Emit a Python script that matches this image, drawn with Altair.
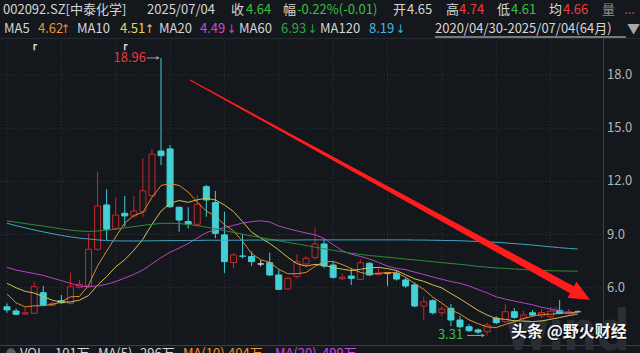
import altair as alt
import pandas as pd

# ---------------- data (monthly candles 2020/04 .. 2025/07, index 0..63) ----------------
opens = [4.93, 4.69, 4.52, 4.56, 5.72, 5.01, 5.27, 5.12, 6.03, 6.10,
         8.17, 10.67, 9.35, 10.20, 10.05, 10.29, 11.19, 13.71, 13.83, 10.54,
         9.73, 9.58, 11.70, 10.80, 8.98, 7.42, 7.79, 7.76, 7.34, 7.41,
         6.72, 5.93, 6.63, 7.34, 7.70, 8.47, 7.28, 6.51, 6.66, 6.47,
         7.38, 6.74, 6.83, 6.82, 6.44, 6.16, 4.97, 5.27, 4.59, 4.84,
         4.18, 3.80, 3.62, 3.52, 4.28, 4.09, 4.65, 4.28, 4.59, 4.41,
         4.37, 4.71, 4.55, 4.65]
highs = [5.12, 4.84, 4.88, 6.34, 6.10, 5.20, 5.60, 6.85, 6.44, 9.07,
         12.55, 11.55, 11.06, 11.18, 11.18, 13.30, 13.81, 18.96, 14.05, 10.57,
         10.54, 11.23, 11.80, 11.46, 10.29, 7.94, 9.02, 8.04, 7.55, 7.98,
         7.00, 6.60, 7.89, 7.80, 9.41, 8.73, 7.45, 6.80, 7.10, 7.60,
         7.45, 7.10, 6.85, 7.00, 6.55, 6.30, 5.50, 5.35, 4.95, 5.08,
         4.40, 3.95, 3.70, 4.03, 4.40, 5.08, 4.85, 4.70, 4.75, 4.80,
         4.90, 5.31, 4.80, 4.74]
lows = [4.59, 4.46, 4.48, 4.52, 4.97, 4.95, 5.08, 5.05, 5.97, 6.00,
        8.10, 8.69, 9.26, 9.45, 9.94, 10.00, 11.10, 12.92, 10.50, 9.16,
        9.35, 9.45, 10.00, 8.79, 6.83, 7.10, 7.66, 7.23, 7.20, 6.66,
        5.87, 5.87, 6.53, 7.20, 7.57, 7.10, 6.50, 6.44, 6.16, 6.44,
        6.66, 6.70, 6.10, 6.40, 6.00, 4.90, 4.18, 4.50, 4.40, 3.84,
        3.72, 3.50, 3.40, 3.31, 3.95, 4.00, 4.25, 4.10, 4.40, 4.30,
        4.25, 4.50, 4.45, 4.61]
closes = [4.75, 4.50, 4.59, 6.06, 5.03, 5.12, 5.16, 6.06, 6.19, 8.17,
          10.61, 9.30, 10.10, 10.05, 10.33, 11.47, 13.54, 13.45, 10.57, 9.82,
          9.60, 10.71, 10.95, 9.07, 7.47, 7.85, 7.78, 7.47, 7.34, 6.72,
          5.91, 6.53, 7.47, 7.66, 8.47, 7.23, 6.59, 6.59, 6.53, 7.41,
          6.72, 6.82, 6.80, 6.49, 6.10, 4.97, 5.21, 4.59, 4.80, 4.18,
          3.80, 3.58, 3.50, 3.90, 4.03, 4.65, 4.33, 4.46, 4.46, 4.60,
          4.68, 4.55, 4.65, 4.64]

ma5 = [5.65, 5.15, 4.92, 4.98, 4.99, 5.06, 5.19, 5.49, 5.51, 6.14,
       7.24, 8.07, 8.87, 9.65, 10.08, 10.25, 11.10, 11.77, 11.87, 11.77,
       11.40, 10.83, 10.33, 10.03, 9.56, 9.21, 8.62, 7.93, 7.58, 7.43,
       7.04, 6.79, 6.79, 6.86, 7.21, 7.47, 7.48, 7.31, 7.08, 6.87,
       6.77, 6.81, 6.86, 6.85, 6.59, 6.24, 5.91, 5.47, 5.13, 4.75,
       4.52, 4.19, 3.97, 3.79, 3.76, 3.93, 4.08, 4.27, 4.39, 4.50,
       4.51, 4.55, 4.59, 4.62]
ma10 = [6.25, 6.00, 5.80, 5.70, 5.50, 5.30, 5.18, 5.20, 5.30, 5.56,
        6.15, 6.63, 7.18, 7.58, 8.11, 8.74, 9.58, 10.32, 10.76, 10.92,
        10.82, 10.96, 11.05, 10.95, 10.67, 10.30, 9.73, 9.13, 8.81, 8.50,
        8.13, 7.71, 7.36, 7.22, 7.32, 7.26, 7.14, 7.05, 6.97, 7.04,
        7.12, 7.15, 7.08, 6.97, 6.73, 6.50, 6.36, 6.16, 5.99, 5.67,
        5.38, 5.05, 4.72, 4.46, 4.26, 4.22, 4.14, 4.12, 4.09, 4.13,
        4.22, 4.32, 4.43, 4.51]
ma20 = [7.15, 7.00, 6.90, 6.80, 6.70, 6.55, 6.40, 6.25, 6.10, 6.05,
        6.10, 6.20, 6.35, 6.55, 6.75, 7.00, 7.35, 7.70, 8.00, 8.24,
        8.49, 8.80, 9.11, 9.27, 9.39, 9.52, 9.65, 9.73, 9.78, 9.71,
        9.48, 9.34, 9.21, 9.09, 8.99, 8.78, 8.43, 8.09, 7.89, 7.77,
        7.62, 7.43, 7.22, 7.09, 7.02, 6.88, 6.75, 6.61, 6.48, 6.35,
        6.25, 6.10, 5.90, 5.71, 5.49, 5.36, 5.25, 5.14, 5.04, 4.90,
        4.80, 4.68, 4.58, 4.49]
ma60 = [9.77, 9.70, 9.62, 9.55, 9.48, 9.40, 9.32, 9.25, 9.20, 9.18,
        9.20, 9.25, 9.30, 9.38, 9.45, 9.52, 9.58, 9.63, 9.64, 9.62,
        9.57, 9.50, 9.42, 9.32, 9.22, 9.12, 9.02, 8.92, 8.83, 8.74,
        8.65, 8.56, 8.47, 8.38, 8.29, 8.20, 8.11, 8.03, 7.95, 7.88,
        7.82, 7.77, 7.72, 7.67, 7.62, 7.57, 7.52, 7.47, 7.42, 7.37,
        7.32, 7.27, 7.20, 7.16, 7.12, 7.09, 7.06, 7.03, 7.00, 6.98,
        6.96, 6.95, 6.94, 6.93]
ma120 = [9.64, 9.50, 9.38, 9.26, 9.15, 9.05, 8.95, 8.87, 8.80, 8.75,
         8.70, 8.66, 8.64, 8.64, 8.64, 8.64, 8.65, 8.65, 8.66, 8.66,
         8.67, 8.67, 8.68, 8.68, 8.68, 8.68, 8.68, 8.69, 8.69, 8.69,
         8.69, 8.69, 8.69, 8.70, 8.70, 8.70, 8.70, 8.70, 8.70, 8.70,
         8.70, 8.70, 8.70, 8.70, 8.70, 8.69, 8.69, 8.68, 8.67, 8.66,
         8.65, 8.63, 8.61, 8.59, 8.56, 8.53, 8.49, 8.45, 8.41, 8.36,
         8.31, 8.26, 8.22, 8.19]

price_ticks = [6, 9, 12, 15, 18]
grid_months = [0, 6, 12, 18, 24, 30, 36, 42, 48, 54, 60]
peak = {"idx": 17, "price": 18.96, "label": "18.96"}
trough = {"idx": 53, "price": 3.31, "label": "3.31"}
event_months = [3, 13]
# trend arrow in (month index, price) space
arrow_idx = [20.2, 62.4]
arrow_price = [17.72, 5.87]
arrow_head = {"idx": 63.36, "price": 5.60}

# ---------------- style ----------------
BG = "#14171c"
RED = "#c8282c"
CYAN = "#40d0d6"
FLAT = "#d8d8d8"
GRID = "#30353d"
TXT = "#d6d6d6"
FONT = "Noto Sans CJK SC"
MA_NAMES = ["MA5", "MA10", "MA20", "MA60", "MA120"]
MA_COLORS = ["#e48a2e", "#d2c250", "#b844c4", "#2c8c3c", "#3ea6c0"]
ORANGE_T = "#f0922c"
YELLOW_T = "#e8d64c"
MAGENTA_T = "#d048d8"
GREEN_MA_T = "#2aa844"
CYAN_T = "#44b8e0"
GREEN_T = "#35c43c"
RED_T = "#f03c3c"

xs = alt.Scale(domain=[-0.773, 69.87], nice=False, zero=False, padding=0)
ys = alt.Scale(domain=[2.32, 22.23], nice=False, zero=False, padding=0)

n = len(closes)
candles = pd.DataFrame({"idx": list(range(n)), "o": opens, "h": highs, "l": lows, "c": closes})
candles["kind"] = ["up" if c > o else ("down" if c < o else "flat") for o, c in zip(opens, closes)]
kind_dom = ["up", "down", "flat"]

X = alt.X("idx:Q", scale=xs, axis=None)

# grid
hgrid = alt.Chart(pd.DataFrame({"p": price_ticks})).mark_rule(
    color=GRID, strokeDash=[1, 2], strokeWidth=1).encode(
    y=alt.Y("p:Q", scale=ys, axis=None), x=alt.value(0), x2=alt.value(603))
vgrid = alt.Chart(pd.DataFrame({"idx": grid_months})).mark_rule(
    color=GRID, strokeDash=[1, 2], strokeWidth=1).encode(
    x=X, y=alt.value(40), y2=alt.value(344))
axis_line = alt.Chart(pd.DataFrame({"a": [0]})).mark_rule(color="#3b4049").encode(
    x=alt.value(603.5), y=alt.value(39), y2=alt.value(345))
sep_line = alt.Chart(pd.DataFrame({"a": [0]})).mark_rule(color="#3b4049").encode(
    x=alt.value(0), x2=alt.value(640), y=alt.value(345.5))
head_line = alt.Chart(pd.DataFrame({"a": [0]})).mark_rule(color="#252930").encode(
    x=alt.value(0), x2=alt.value(640), y=alt.value(38.5))
ylabels = alt.Chart(pd.DataFrame({"p": price_ticks})).mark_text(
    align="left", baseline="middle", fontSize=13, font=FONT, color="#b4b4b4").encode(
    y=alt.Y("p:Q", scale=ys, axis=None), x=alt.value(607), text=alt.Text("p:Q", format=".1f"))

# candles
wick = alt.Chart(candles).mark_rule(strokeWidth=1).encode(
    x=X, y=alt.Y("l:Q", scale=ys, axis=None), y2="h:Q",
    stroke=alt.Stroke("kind:N", scale=alt.Scale(domain=kind_dom, range=[RED, CYAN, FLAT]), legend=None))
body = alt.Chart(candles).mark_bar(size=6, strokeWidth=1).encode(
    x=X, y=alt.Y("o:Q", scale=ys, axis=None), y2="c:Q",
    fill=alt.Fill("kind:N", scale=alt.Scale(domain=kind_dom, range=[BG, CYAN, FLAT]), legend=None),
    stroke=alt.Stroke("kind:N", scale=alt.Scale(domain=kind_dom, range=[RED, CYAN, FLAT]), legend=None))

# moving averages
ma_df = pd.DataFrame({"idx": list(range(n)), "MA5": ma5, "MA10": ma10, "MA20": ma20,
                      "MA60": ma60, "MA120": ma120})
ma_long = ma_df.melt("idx", var_name="ma", value_name="v")
ma_lines = alt.Chart(ma_long).mark_line(strokeWidth=1).encode(
    x=X, y=alt.Y("v:Q", scale=ys, axis=None),
    color=alt.Color("ma:N", scale=alt.Scale(domain=MA_NAMES, range=MA_COLORS), legend=None),
    detail="ma:N")

# extreme labels
pk = pd.DataFrame([peak])
peak_text = alt.Chart(pk).mark_text(align="right", baseline="middle", dx=-15, fontSize=13,
                                    font=FONT, color="#e8393c").encode(
    x=X, y=alt.Y("price:Q", scale=ys, axis=None), text="label:N")
peak_rule = alt.Chart(pk).mark_rule(color="#a0a0a0", xOffset=-14, x2Offset=-2).encode(
    x=X, x2="idx:Q", y=alt.Y("price:Q", scale=ys, axis=None))
peak_tip = alt.Chart(pk).mark_point(shape="triangle-right", size=14, filled=True,
                                    color="#a0a0a0", xOffset=-3, opacity=1).encode(
    x=X, y=alt.Y("price:Q", scale=ys, axis=None))
tr = pd.DataFrame([trough])
tr_text = alt.Chart(tr).mark_text(align="right", baseline="middle", dx=-24, fontSize=13,
                                  font=FONT, color="#3cc043").encode(
    x=X, y=alt.Y("price:Q", scale=ys, axis=None), text="label:N")
tr_rule = alt.Chart(tr).mark_rule(color="#a0a0a0", xOffset=-20, x2Offset=-3).encode(
    x=X, x2="idx:Q", y=alt.Y("price:Q", scale=ys, axis=None))
tr_tip = alt.Chart(tr).mark_point(shape="triangle-right", size=14, filled=True,
                                  color="#a0a0a0", xOffset=-4, opacity=1).encode(
    x=X, y=alt.Y("price:Q", scale=ys, axis=None))

events = alt.Chart(pd.DataFrame({"idx": event_months})).mark_text(
    text="┏", fontSize=9, color="#d8d8d8", font="DejaVu Sans", align="center", dx=0).encode(
    x=X, y=alt.value(45))

# trend arrow
arr = pd.DataFrame({"idx": arrow_idx, "price": arrow_price, "w": [1.0, 8.0]})
arrow = alt.Chart(arr).mark_trail(color="#ff1c1c").encode(
    x=X, y=alt.Y("price:Q", scale=ys, axis=None), size=alt.Size("w:Q", scale=None, legend=None))
ah = pd.DataFrame([arrow_head])
arrow_tip = alt.Chart(ah).mark_point(shape="M -1 -0.9 L 1 0 L -1 0.9 Z", size=420, filled=True,
                                     color="#ff1c1c", angle=29, opacity=1).encode(
    x=X, y=alt.Y("price:Q", scale=ys, axis=None))

# header texts
header_items = [
    ("002092.SZ[中泰化学]", 3, TXT), ("2025/07/04", 147, TXT), ("收", 231, TXT), ("4.64", 246, GREEN_T),
    ("幅", 283, TXT), ("-0.22%(-0.01)", 297, GREEN_T), ("开", 393, TXT), ("4.65", 407, TXT),
    ("高", 446, TXT), ("4.74", 459, RED_T), ("低", 497, TXT), ("4.61", 511, GREEN_T),
    ("均", 549, TXT), ("4.66", 563, RED_T), ("量", 602, "#8a8a8a"), ("...", 624, RED_T),
]
row2_items = [
    ("MA5", 4, TXT), ("4.62", 38, ORANGE_T), ("MA10", 77, TXT), ("4.51", 120, YELLOW_T),
    ("MA20", 159, TXT), ("4.49", 200, MAGENTA_T), ("MA60", 239, TXT), ("6.93", 281, GREEN_MA_T),
    ("MA120", 320, TXT), ("8.19", 369, CYAN_T), ("2020/04/30-2025/07/04(64月)", 435, TXT),
    ("▼", 627, "#a8a8a8"),
]
row2_arrows = [
    ("↑", 61, ORANGE_T), ("↑", 145, YELLOW_T), ("↓", 227, MAGENTA_T),
    ("↓", 308, GREEN_MA_T), ("↓", 396, CYAN_T),
]
vol_items = [
    ("VOL", 20, TXT), ("101万", 55, TXT), ("MA(5)", 98, TXT), ("296万", 140, TXT),
    ("MA(10)", 183, ORANGE_T), ("404万", 228, ORANGE_T), ("MA(20)", 275, MAGENTA_T),
    ("499万", 322, MAGENTA_T),
]
hdr = pd.DataFrame(
    [{"t": t, "x": x, "y": 9.5, "col": c} for t, x, c in header_items]
    + [{"t": t, "x": x, "y": 28.5, "col": c} for t, x, c in row2_items]
    + [{"t": t, "x": x, "y": 353.5, "col": c} for t, x, c in vol_items])
header = alt.Chart(hdr).mark_text(align="left", baseline="middle", fontSize=13, font=FONT).encode(
    x=alt.X("x:Q", scale=None), y=alt.Y("y:Q", scale=None),
    color=alt.Color("col:N", scale=None), text="t:N")
arr_df = pd.DataFrame([{"t": t, "x": x, "y": 28.5, "col": c} for t, x, c in row2_arrows])
header_arrows = alt.Chart(arr_df).mark_text(align="left", baseline="middle", fontSize=12,
                                            font="DejaVu Sans Condensed").encode(
    x=alt.X("x:Q", scale=None), y=alt.Y("y:Q", scale=None),
    color=alt.Color("col:N", scale=None), text="t:N")
underline = alt.Chart(pd.DataFrame({"a": [0]})).mark_rule(color=TXT).encode(
    x=alt.value(435), x2=alt.value(626), y=alt.value(37))
vol_icon = alt.Chart(pd.DataFrame({"a": [0]})).mark_point(
    shape="circle", size=90, filled=True, color="#5a5e66", opacity=1).encode(
    x=alt.value(11), y=alt.value(353))

# watermark
wm_logo = alt.Chart(pd.DataFrame({"t": ["wind"]})).mark_text(
    align="left", baseline="bottom", fontSize=58, fontWeight="bold", font="Roboto",
    color="#2a2d34").encode(x=alt.value(506), y=alt.value(362), text="t:N")
wm_shadow = alt.Chart(pd.DataFrame({"t": ["头条 @野火财经"]})).mark_text(
    align="left", baseline="middle", fontSize=16, fontWeight="bold", font=FONT,
    color="#000000", opacity=0.8).encode(x=alt.value(512), y=alt.value(333), text="t:N")
wm_text = alt.Chart(pd.DataFrame({"t": ["头条 @野火财经"]})).mark_text(
    align="left", baseline="middle", fontSize=16, fontWeight="bold", font=FONT,
    color="#f4f4f4").encode(x=alt.value(511), y=alt.value(332), text="t:N")

chart = alt.layer(
    hgrid, vgrid, axis_line, sep_line, head_line, ylabels, wm_logo,
    wick, body, ma_lines,
    peak_rule, peak_tip, peak_text, tr_rule, tr_tip, tr_text, events,
    arrow, arrow_tip,
    header, header_arrows, underline, vol_icon, wm_shadow, wm_text,
).resolve_scale(
    x="independent", y="independent", color="independent",
    fill="independent", stroke="independent", size="independent"
).properties(
    width=640, height=353, background=BG, padding=0,
    autosize=alt.AutoSizeParams(type="none"),
).configure_view(stroke=None)

chart.save("out.html", embed_options={"renderer": "svg", "actions": False})
